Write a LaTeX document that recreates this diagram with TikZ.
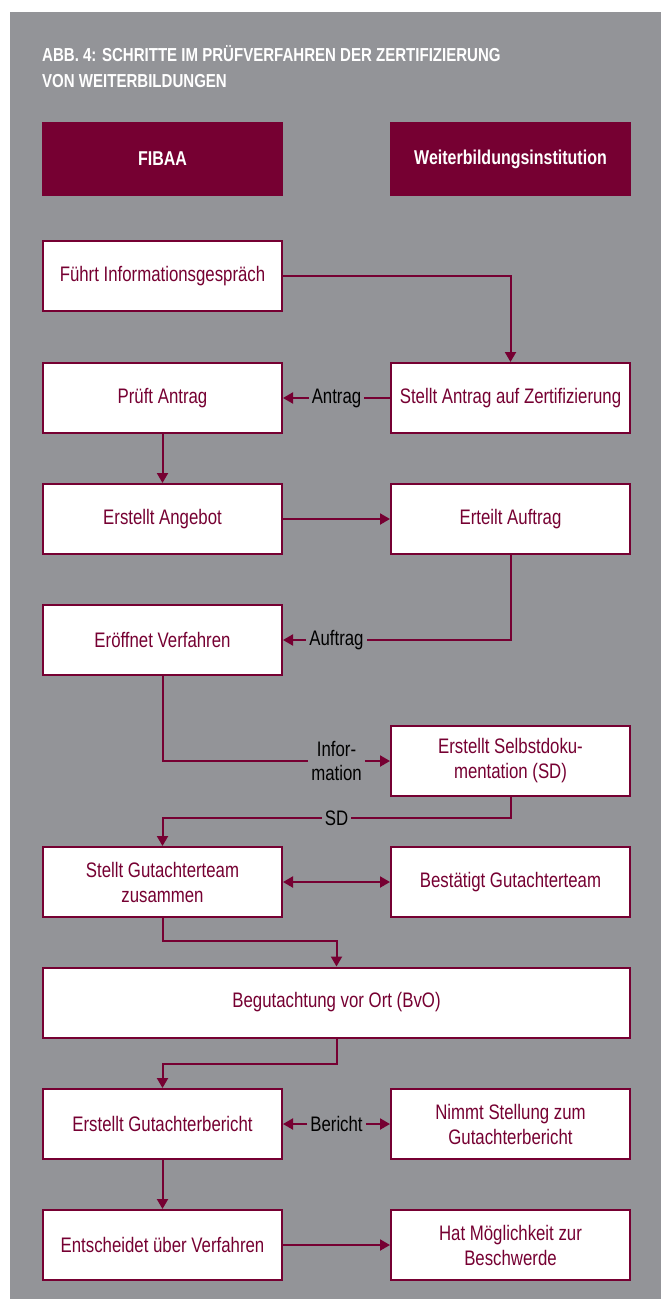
\documentclass[tikz,border=0pt]{standalone}
\usepackage{fontspec}
\setmainfont{Liberation Sans}[FakeStretch=0.8]
\usetikzlibrary{arrows.meta}
\definecolor{maroon}{RGB}{118,0,50}
\definecolor{bggray}{RGB}{147,148,152}
\begin{document}
\begin{tikzpicture}[x=1pt,y=-1pt,
  box/.style={draw=maroon, line width=2pt, fill=white, minimum width=239pt, minimum height=70pt,
    text=maroon, font=\fontsize{21}{25}\selectfont, align=center, inner sep=0pt},
  head/.style={fill=maroon, minimum width=241pt, minimum height=74pt, text=white,
    font=\fontsize{20}{25}\selectfont\bfseries, inner sep=0pt},
  lbl/.style={fill=bggray, text=black, inner sep=3pt, align=center,
    font=\fontsize{21}{24}\selectfont},
  ttl/.style={anchor=base west, text=white, inner sep=0pt, font=\fontsize{18.8}{26}\selectfont\bfseries},
  conn/.style={draw=maroon, line width=2pt},
  arr/.style={conn, -{Triangle[length=10pt,width=11pt]}},
  darr/.style={conn, {Triangle[length=10pt,width=11pt]}-{Triangle[length=10pt,width=11pt]}}]
\useasboundingbox (0,0) rectangle (667,1303);
\fill[white] (0,0) rectangle (667,1303);
\fill[bggray] (10,12) rectangle (661,1299);
\node[ttl] (title1) at (42,62) {ABB. 4: SCHRITTE IM PRÜFVERFAHREN DER ZERTIFIZIERUNG};
\node[ttl] (title2) at (42,88) {VON WEITERBILDUNGEN};
\node[head] (fibaa) at (162.5,159) {FIBAA};
\node[head] (wbi) at (510.5,159) {Weiterbildungsinstitution};
\node[box] (fi) at (162.5,276) {Führt Informationsgespräch};
\node[box] (pa) at (162.5,398) {Prüft Antrag};
\node[box] (sa) at (510.5,398) {Stellt Antrag auf Zertifizierung};
\node[box] (ang) at (162.5,519) {Erstellt Angebot};
\node[box] (ea) at (510.5,519) {Erteilt Auftrag};
\node[box] (ev) at (162.5,640) {Eröffnet Verfahren};
\node[box] (sd) at (510.5,761) {Erstellt Selbstdoku-\\mentation (SD)};
\node[box] (sgt) at (162.5,882) {Stellt Gutachterteam\\zusammen};
\node[box] (bgt) at (510.5,882) {Bestätigt Gutachterteam};
\node[box, minimum width=587pt] (bvo) at (336.5,1002.5) {Begutachtung vor Ort (BvO)};
\node[box] (gb) at (162.5,1124) {Erstellt Gutachterbericht};
\node[box] (ns) at (510.5,1124) {Nimmt Stellung zum\\Gutachterbericht};
\node[box] (eu) at (162.5,1245) {Entscheidet über Verfahren};
\node[box] (hm) at (510.5,1245) {Hat Möglichkeit zur\\Beschwerde};
% labels
\node[lbl] (lantrag) at (336.5,398) {Antrag};
\node[lbl] (lauftrag) at (336.5,640) {Auftrag};
\node[lbl] (linfo) at (336.5,761) {Infor-\\mation};
\node[lbl] (lsd) at (336.5,818) {SD};
\node[lbl] (lber) at (336.5,1124) {Bericht};
\coordinate (k1) at (162.5,941);
\coordinate (k2) at (336.5,1064);
% connectors
\draw[arr] (fi.east) -| (sa.north);
\draw[conn] (sa.west) -- (lantrag.east);
\draw[arr] (lantrag.west) -- (pa.east);
\draw[arr] (pa.south) -- (ang.north);
\draw[arr] (ang.east) -- (ea.west);
\draw[conn] (ea.south) |- (lauftrag.east);
\draw[arr] (lauftrag.west) -- (ev.east);
\draw[conn] (ev.south) |- (linfo.west);
\draw[arr] (linfo.east) -- (sd.west);
\draw[conn] (sd.south) |- (lsd.east);
\draw[arr] (lsd.west) -| (sgt.north);
\draw[darr] (sgt.east) -- (bgt.west);
\draw[arr] (sgt.south) -- (k1) -| (bvo.north);
\draw[arr] (bvo.south) -- (k2) -| (gb.north);
\draw[arr] (lber.west) -- (gb.east);
\draw[arr] (lber.east) -- (ns.west);
\draw[arr] (gb.south) -- (eu.north);
\draw[arr] (eu.east) -- (hm.west);
\end{tikzpicture}
\end{document}
